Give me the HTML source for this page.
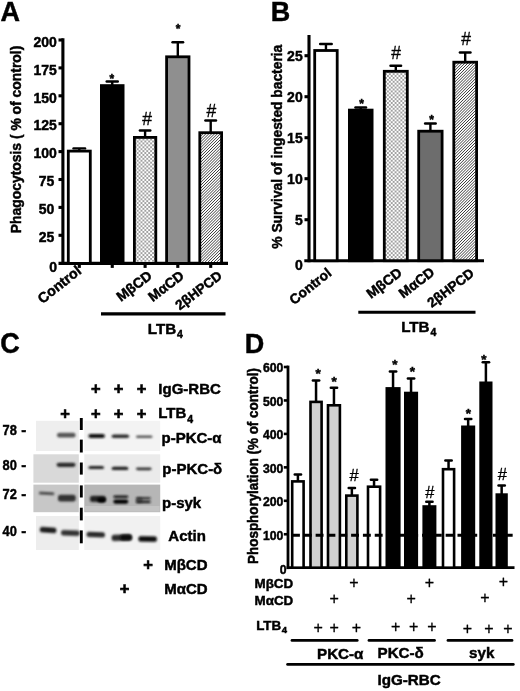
<!DOCTYPE html>
<html><head><meta charset="utf-8"><title>Figure</title>
<style>html,body{margin:0;padding:0;background:#fff;}svg{display:block;}text{font-family:"Liberation Sans",Arial,Helvetica,sans-serif;fill:#000;}text.b{stroke:#000;stroke-width:.45px;}text.h{stroke:#000;stroke-width:.3px;}</style>
</head><body>
<svg width="520" height="691" viewBox="0 0 520 691">
<rect width="520" height="691" fill="#fff"/>
<defs>
<pattern id="dots" width="3.85" height="3.85" patternUnits="userSpaceOnUse"><rect width="3.85" height="3.85" fill="#fff"/><circle cx="0.96" cy="0.96" r="0.8" fill="#2a2a2a"/><circle cx="2.885" cy="2.885" r="0.8" fill="#2a2a2a"/></pattern>
<pattern id="hatch" width="2.05" height="2.05" patternUnits="userSpaceOnUse" patternTransform="rotate(-45)"><rect width="2.05" height="2.05" fill="#fff"/><rect width="2.05" height="0.68" fill="#333"/></pattern>
<filter id="b1" x="-5%" y="-5%" width="110%" height="110%"><feGaussianBlur stdDeviation="0.5"/></filter>
<filter id="b2" x="-30%" y="-100%" width="160%" height="300%"><feGaussianBlur stdDeviation="1.15"/></filter>
</defs>
<text x="0.50" y="21.20" font-size="27" font-weight="bold" text-anchor="start" class="b" >A</text>
<line x1="62.90" y1="38.25" x2="62.90" y2="264.95" stroke="#000" stroke-width="3.1" />
<line x1="58.50" y1="263.40" x2="228.00" y2="263.40" stroke="#000" stroke-width="3.1" />
<line x1="58.50" y1="40.00" x2="62.90" y2="40.00" stroke="#000" stroke-width="3.1" />
<text x="56.90" y="46.70" font-size="14" font-weight="bold" text-anchor="end" class="b" >200</text>
<line x1="58.50" y1="67.90" x2="62.90" y2="67.90" stroke="#000" stroke-width="3.1" />
<text x="56.90" y="74.60" font-size="14" font-weight="bold" text-anchor="end" class="b" >175</text>
<line x1="58.50" y1="95.80" x2="62.90" y2="95.80" stroke="#000" stroke-width="3.1" />
<text x="56.90" y="102.50" font-size="14" font-weight="bold" text-anchor="end" class="b" >150</text>
<line x1="58.50" y1="123.70" x2="62.90" y2="123.70" stroke="#000" stroke-width="3.1" />
<text x="56.90" y="130.40" font-size="14" font-weight="bold" text-anchor="end" class="b" >125</text>
<line x1="58.50" y1="151.60" x2="62.90" y2="151.60" stroke="#000" stroke-width="3.1" />
<text x="56.90" y="158.30" font-size="14" font-weight="bold" text-anchor="end" class="b" >100</text>
<line x1="58.50" y1="179.50" x2="62.90" y2="179.50" stroke="#000" stroke-width="3.1" />
<text x="54.40" y="186.20" font-size="14" font-weight="bold" text-anchor="end" class="b" >75</text>
<line x1="58.50" y1="207.40" x2="62.90" y2="207.40" stroke="#000" stroke-width="3.1" />
<text x="54.40" y="214.10" font-size="14" font-weight="bold" text-anchor="end" class="b" >50</text>
<line x1="58.50" y1="235.30" x2="62.90" y2="235.30" stroke="#000" stroke-width="3.1" />
<text x="54.40" y="242.00" font-size="14" font-weight="bold" text-anchor="end" class="b" >25</text>
<text x="57.00" y="272.00" font-size="14" font-weight="bold" text-anchor="end" class="b" >0</text>
<text x="20.80" y="139.50" font-size="13.9" font-weight="bold" text-anchor="middle" transform="rotate(-90 20.80 139.50)" class="b" >Phagocytosis ( % of control)</text>
<line x1="79.30" y1="148.40" x2="79.30" y2="150.70" stroke="#000" stroke-width="2.4" />
<line x1="73.50" y1="148.40" x2="85.10" y2="148.40" stroke="#000" stroke-width="2.4" stroke-linecap="round"/>
<rect x="68.30" y="151.10" width="22.00" height="112.30" fill="#fff" stroke="#000" stroke-width="2.8"/>
<line x1="79.30" y1="263.40" x2="79.30" y2="267.90" stroke="#000" stroke-width="3.1" />
<line x1="112.25" y1="81.50" x2="112.25" y2="85.20" stroke="#000" stroke-width="2.4" />
<line x1="106.70" y1="81.50" x2="117.80" y2="81.50" stroke="#000" stroke-width="2.4" stroke-linecap="round"/>
<rect x="101.40" y="85.60" width="21.70" height="177.80" fill="#000" stroke="#000" stroke-width="2.8"/>
<line x1="112.25" y1="263.40" x2="112.25" y2="267.90" stroke="#000" stroke-width="3.1" />
<line x1="145.10" y1="130.50" x2="145.10" y2="137.00" stroke="#000" stroke-width="2.4" />
<line x1="139.90" y1="130.50" x2="150.30" y2="130.50" stroke="#000" stroke-width="2.4" stroke-linecap="round"/>
<rect x="134.40" y="137.40" width="21.40" height="126.00" fill="url(#dots)" stroke="#000" stroke-width="2.8"/>
<line x1="145.10" y1="263.40" x2="145.10" y2="267.90" stroke="#000" stroke-width="3.1" />
<line x1="177.80" y1="42.30" x2="177.80" y2="56.40" stroke="#000" stroke-width="2.4" />
<line x1="172.50" y1="42.30" x2="183.10" y2="42.30" stroke="#000" stroke-width="2.4" stroke-linecap="round"/>
<rect x="166.60" y="56.80" width="22.40" height="206.60" fill="#8f8f8f" stroke="#000" stroke-width="2.8"/>
<line x1="177.80" y1="263.40" x2="177.80" y2="267.90" stroke="#000" stroke-width="3.1" />
<line x1="210.70" y1="120.50" x2="210.70" y2="132.30" stroke="#000" stroke-width="2.4" />
<line x1="205.40" y1="120.50" x2="216.00" y2="120.50" stroke="#000" stroke-width="2.4" stroke-linecap="round"/>
<rect x="199.80" y="132.70" width="21.80" height="130.70" fill="url(#hatch)" stroke="#000" stroke-width="2.8"/>
<line x1="210.70" y1="263.40" x2="210.70" y2="267.90" stroke="#000" stroke-width="3.1" />
<text x="111.90" y="82.80" font-size="12" font-weight="bold" text-anchor="middle" class="b" >*</text>
<text x="178.00" y="32.70" font-size="12" font-weight="bold" text-anchor="middle" class="b" >*</text>
<text x="147.00" y="124.50" font-size="17.5" font-weight="normal" text-anchor="middle" class="h">#</text>
<text x="211.40" y="116.50" font-size="17.5" font-weight="normal" text-anchor="middle" class="h">#</text>
<text x="82.30" y="272.60" font-size="14.3" font-weight="bold" text-anchor="end" transform="rotate(-38.5 82.30 272.60)" class="b" >Control</text>
<text x="153.00" y="277.50" font-size="14" font-weight="bold" text-anchor="end" transform="rotate(-37.5 153.00 277.50)" class="b" >MβCD</text>
<text x="185.00" y="277.50" font-size="14" font-weight="bold" text-anchor="end" transform="rotate(-37.5 185.00 277.50)" class="b" >MαCD</text>
<text x="223.00" y="277.50" font-size="13.6" font-weight="bold" text-anchor="end" transform="rotate(-37.5 223.00 277.50)" class="b" >2βHPCD</text>
<line x1="101.00" y1="313.90" x2="225.50" y2="313.90" stroke="#000" stroke-width="3.1" />
<text x="147.80" y="333.60" font-size="15.2" font-weight="bold" text-anchor="start" class="b" >LTB<tspan font-size="10.5" dy="4.6" dx="0.8">4</tspan></text>
<text x="270.70" y="20.80" font-size="27" font-weight="bold" text-anchor="start" class="b" >B</text>
<line x1="309.00" y1="35.00" x2="309.00" y2="262.25" stroke="#000" stroke-width="3.1" />
<line x1="304.30" y1="260.70" x2="484.00" y2="260.70" stroke="#000" stroke-width="3.1" />
<line x1="304.50" y1="55.70" x2="309.00" y2="55.70" stroke="#000" stroke-width="3.1" />
<text x="302.70" y="61.40" font-size="14" font-weight="bold" text-anchor="end" class="b" >25</text>
<line x1="304.50" y1="96.70" x2="309.00" y2="96.70" stroke="#000" stroke-width="3.1" />
<text x="302.70" y="102.40" font-size="14" font-weight="bold" text-anchor="end" class="b" >20</text>
<line x1="304.50" y1="137.70" x2="309.00" y2="137.70" stroke="#000" stroke-width="3.1" />
<text x="302.70" y="143.40" font-size="14" font-weight="bold" text-anchor="end" class="b" >15</text>
<line x1="304.50" y1="178.70" x2="309.00" y2="178.70" stroke="#000" stroke-width="3.1" />
<text x="302.70" y="184.40" font-size="14" font-weight="bold" text-anchor="end" class="b" >10</text>
<line x1="304.50" y1="219.70" x2="309.00" y2="219.70" stroke="#000" stroke-width="3.1" />
<text x="302.70" y="225.40" font-size="14" font-weight="bold" text-anchor="end" class="b" >5</text>
<text x="302.80" y="269.90" font-size="14" font-weight="bold" text-anchor="end" class="b" >0</text>
<text x="281.80" y="146.70" font-size="13.8" font-weight="bold" text-anchor="middle" transform="rotate(-90 281.80 146.70)" class="b" >% Survival of ingested bacteria</text>
<line x1="325.95" y1="44.00" x2="325.95" y2="50.10" stroke="#000" stroke-width="2.4" />
<line x1="320.15" y1="44.00" x2="331.75" y2="44.00" stroke="#000" stroke-width="2.4" stroke-linecap="round"/>
<rect x="314.70" y="50.50" width="22.50" height="210.20" fill="#fff" stroke="#000" stroke-width="2.8"/>
<line x1="360.75" y1="107.50" x2="360.75" y2="109.70" stroke="#000" stroke-width="2.4" />
<line x1="355.45" y1="107.50" x2="366.05" y2="107.50" stroke="#000" stroke-width="2.4" stroke-linecap="round"/>
<rect x="349.40" y="110.10" width="22.70" height="150.60" fill="#000" stroke="#000" stroke-width="2.8"/>
<line x1="395.80" y1="65.80" x2="395.80" y2="70.90" stroke="#000" stroke-width="2.4" />
<line x1="390.50" y1="65.80" x2="401.10" y2="65.80" stroke="#000" stroke-width="2.4" stroke-linecap="round"/>
<rect x="384.30" y="71.30" width="23.00" height="189.40" fill="url(#dots)" stroke="#000" stroke-width="2.8"/>
<line x1="430.40" y1="123.50" x2="430.40" y2="130.80" stroke="#000" stroke-width="2.4" />
<line x1="425.10" y1="123.50" x2="435.70" y2="123.50" stroke="#000" stroke-width="2.4" stroke-linecap="round"/>
<rect x="418.70" y="131.20" width="23.40" height="129.50" fill="#6d6d6d" stroke="#000" stroke-width="2.8"/>
<line x1="465.20" y1="52.50" x2="465.20" y2="61.80" stroke="#000" stroke-width="2.4" />
<line x1="459.90" y1="52.50" x2="470.50" y2="52.50" stroke="#000" stroke-width="2.4" stroke-linecap="round"/>
<rect x="453.80" y="62.20" width="22.80" height="198.50" fill="url(#hatch)" stroke="#000" stroke-width="2.8"/>
<text x="361.50" y="107.80" font-size="12" font-weight="bold" text-anchor="middle" class="b" >*</text>
<text x="431.70" y="124.30" font-size="12" font-weight="bold" text-anchor="middle" class="b" >*</text>
<text x="396.00" y="59.30" font-size="17.5" font-weight="normal" text-anchor="middle" class="h">#</text>
<text x="466.00" y="45.30" font-size="17.5" font-weight="normal" text-anchor="middle" class="h">#</text>
<text x="332.40" y="274.70" font-size="13.8" font-weight="bold" text-anchor="end" transform="rotate(-38.5 332.40 274.70)" class="b" >Control</text>
<text x="403.00" y="274.50" font-size="14" font-weight="bold" text-anchor="end" transform="rotate(-37.5 403.00 274.50)" class="b" >MβCD</text>
<text x="435.50" y="274.00" font-size="14" font-weight="bold" text-anchor="end" transform="rotate(-37.5 435.50 274.00)" class="b" >MαCD</text>
<text x="475.00" y="275.00" font-size="13.6" font-weight="bold" text-anchor="end" transform="rotate(-37.5 475.00 275.00)" class="b" >2βHPCD</text>
<line x1="358.30" y1="312.30" x2="475.50" y2="312.30" stroke="#000" stroke-width="3.1" />
<text x="401.20" y="331.80" font-size="15.2" font-weight="bold" text-anchor="start" class="b" >LTB<tspan font-size="10.5" dy="4.6" dx="0.8">4</tspan></text>
<text class="b" transform="translate(0.3 352.6) scale(1 1.07)" font-size="27" font-weight="bold">C</text>
<g filter="url(#b1)">
<rect x="36" y="420.8" width="42.8" height="30.2" fill="#eeeeee"/>
<rect x="84.3" y="420.8" width="75.9" height="30.2" fill="#f3f3f3"/>
<rect x="33.4" y="454.3" width="45.4" height="28.4" fill="#d9d9d9"/>
<rect x="84.3" y="454.3" width="75.9" height="28.4" fill="#ebebeb"/>
<rect x="33.4" y="484.6" width="45.4" height="27.6" fill="#c7c7c7"/>
<rect x="84.3" y="484.6" width="75.9" height="27.6" fill="#b6b6b6"/>
<rect x="36" y="516" width="42.8" height="34.0" fill="#ededed"/>
<rect x="84.3" y="516" width="75.9" height="34.0" fill="#f1f1f1"/>
<rect x="84.8" y="506" width="74.9" height="5.6" fill="#c4c4c4" filter="url(#b1)"/>
</g>
<rect x="57.0" y="432.8" width="18.6" height="4.7" rx="2.5" fill="#555" opacity="1.0" filter="url(#b2)" transform="rotate(0 66.3 435.1)"/>
<rect x="88.3" y="434.0" width="16.7" height="3.9" rx="2.5" fill="#111" opacity="1.0" filter="url(#b2)" transform="rotate(0 96.7 435.9)"/>
<rect x="111.6" y="434.6" width="17.6" height="3.3" rx="2.4" fill="#2a2a2a" opacity="1.0" filter="url(#b2)" transform="rotate(0 120.4 436.2)"/>
<rect x="135.9" y="435.4" width="16.7" height="2.7" rx="2.1" fill="#555" opacity="1.0" filter="url(#b2)" transform="rotate(0 144.2 436.8)"/>
<rect x="56.5" y="462.8" width="19.1" height="4.1" rx="2.5" fill="#2a2a2a" opacity="1.0" filter="url(#b2)" transform="rotate(0 66.1 464.9)"/>
<rect x="88.3" y="466.0" width="15.9" height="3.1" rx="2.3" fill="#222" opacity="1.0" filter="url(#b2)" transform="rotate(0 96.2 467.5)"/>
<rect x="111.6" y="466.8" width="16.8" height="3.2" rx="2.4" fill="#1a1a1a" opacity="1.0" filter="url(#b2)" transform="rotate(0 120.0 468.4)"/>
<rect x="135.9" y="467.4" width="15.8" height="2.8" rx="2.2" fill="#333" opacity="1.0" filter="url(#b2)" transform="rotate(0 143.8 468.8)"/>
<rect x="38.8" y="492.0" width="15.6" height="2.8" rx="2.2" fill="#444" opacity="1.0" filter="url(#b2)" transform="rotate(3 46.6 493.4)"/>
<rect x="58.0" y="494.8" width="17.7" height="6.6" rx="2.5" fill="#333" opacity="1.0" filter="url(#b2)" transform="rotate(0 66.8 498.1)"/>
<rect x="90.0" y="495.7" width="15.8" height="6.4" rx="2.5" fill="#222" opacity="1.0" filter="url(#b2)" transform="rotate(0 97.9 498.9)"/>
<rect x="97.3" y="497.8" width="8.5" height="4.6" rx="2.5" fill="#000" opacity="1.0" filter="url(#b2)" transform="rotate(0 101.5 500.1)"/>
<rect x="113.3" y="495.6" width="15.0" height="2.4" rx="2.0" fill="#111" opacity="1.0" filter="url(#b2)" transform="rotate(0 120.8 496.8)"/>
<rect x="113.3" y="499.4" width="15.0" height="4.4" rx="2.5" fill="#000" opacity="1.0" filter="url(#b2)" transform="rotate(0 120.8 501.6)"/>
<rect x="135.9" y="497.2" width="14.9" height="2.0" rx="1.8" fill="#222" opacity="1.0" filter="url(#b2)" transform="rotate(0 143.3 498.2)"/>
<rect x="135.9" y="500.8" width="14.9" height="2.2" rx="1.9" fill="#111" opacity="1.0" filter="url(#b2)" transform="rotate(0 143.3 501.9)"/>
<rect x="135.9" y="497.4" width="6.8" height="5.4" rx="2.5" fill="#222" opacity="0.6" filter="url(#b2)" transform="rotate(0 139.3 500.1)"/>
<rect x="39.8" y="527.2" width="16.6" height="5.5" rx="2.5" fill="#1a1a1a" opacity="1.0" filter="url(#b2)" transform="rotate(4 48.1 530.0)"/>
<rect x="61.0" y="530.2" width="18.7" height="5.5" rx="2.5" fill="#333" opacity="1.0" filter="url(#b2)" transform="rotate(2 70.3 533.0)"/>
<rect x="86.5" y="532.0" width="18.5" height="5.3" rx="2.5" fill="#2a2a2a" opacity="1.0" filter="url(#b2)" transform="rotate(2 95.8 534.7)"/>
<rect x="111.6" y="534.6" width="20.2" height="6.2" rx="2.5" fill="#2a2a2a" opacity="1.0" filter="url(#b2)" transform="rotate(-2 121.7 537.7)"/>
<rect x="120.3" y="534.8" width="11.5" height="5.4" rx="2.5" fill="#111" opacity="1.0" filter="url(#b2)" transform="rotate(0 126.0 537.5)"/>
<rect x="138.4" y="536.3" width="18.5" height="5.4" rx="2.5" fill="#0a0a0a" opacity="1.0" filter="url(#b2)" transform="rotate(1 147.6 539.0)"/>
<line x1="81.30" y1="418.00" x2="81.30" y2="430.00" stroke="#000" stroke-width="2.9" />
<line x1="81.30" y1="439.60" x2="81.30" y2="452.50" stroke="#000" stroke-width="2.9" />
<line x1="81.30" y1="462.50" x2="81.30" y2="474.60" stroke="#000" stroke-width="2.9" />
<line x1="81.30" y1="485.40" x2="81.30" y2="497.50" stroke="#000" stroke-width="2.9" />
<line x1="81.30" y1="507.70" x2="81.30" y2="520.40" stroke="#000" stroke-width="2.9" />
<line x1="81.30" y1="530.40" x2="81.30" y2="543.30" stroke="#000" stroke-width="2.9" />
<text class="b" transform="translate(2.60 435.30) scale(0.88 1)" font-size="14.6" font-weight="bold" text-anchor="start">78</text>
<text class="b" transform="translate(21.20 435.30) scale(1.0 1)" font-size="15" font-weight="bold" text-anchor="start">-</text>
<text class="b" transform="translate(2.60 470.10) scale(0.88 1)" font-size="14.6" font-weight="bold" text-anchor="start">80</text>
<text class="b" transform="translate(21.20 470.10) scale(1.0 1)" font-size="15" font-weight="bold" text-anchor="start">-</text>
<text class="b" transform="translate(2.60 499.40) scale(0.88 1)" font-size="14.6" font-weight="bold" text-anchor="start">72</text>
<text class="b" transform="translate(21.20 499.40) scale(1.0 1)" font-size="15" font-weight="bold" text-anchor="start">-</text>
<text class="b" transform="translate(2.60 535.60) scale(0.88 1)" font-size="14.6" font-weight="bold" text-anchor="start">40</text>
<text class="b" transform="translate(21.20 535.60) scale(1.0 1)" font-size="15" font-weight="bold" text-anchor="start">-</text>
<text x="95.80" y="393.80" font-size="16.5" font-weight="bold" text-anchor="middle" class="b" style="stroke-width:.6px">+</text>
<text x="118.60" y="393.80" font-size="16.5" font-weight="bold" text-anchor="middle" class="b" style="stroke-width:.6px">+</text>
<text x="141.60" y="393.80" font-size="16.5" font-weight="bold" text-anchor="middle" class="b" style="stroke-width:.6px">+</text>
<text x="65.00" y="419.00" font-size="16.5" font-weight="bold" text-anchor="middle" class="b" style="stroke-width:.6px">+</text>
<text x="95.80" y="419.00" font-size="16.5" font-weight="bold" text-anchor="middle" class="b" style="stroke-width:.6px">+</text>
<text x="118.60" y="419.00" font-size="16.5" font-weight="bold" text-anchor="middle" class="b" style="stroke-width:.6px">+</text>
<text x="141.60" y="419.00" font-size="16.5" font-weight="bold" text-anchor="middle" class="b" style="stroke-width:.6px">+</text>
<text class="b" transform="translate(158.30 393.70) scale(1.0 1)" font-size="15" font-weight="bold" text-anchor="start">IgG-RBC</text>
<text class="b" transform="translate(158.30 418.20) scale(1.0 1)" font-size="15" font-weight="bold" text-anchor="start">LTB<tspan font-size="10.5" dy="4.6" dx="0.8">4</tspan></text>
<text class="b" transform="translate(161.50 443.00) scale(1.0 1)" font-size="15" font-weight="bold" text-anchor="start">p-PKC-α</text>
<text class="b" transform="translate(162.30 473.70) scale(1.0 1)" font-size="15" font-weight="bold" text-anchor="start">p-PKC-δ</text>
<text class="b" transform="translate(162.00 508.20) scale(1.0 1)" font-size="15" font-weight="bold" text-anchor="start">p-syk</text>
<text class="b" transform="translate(168.30 541.40) scale(1.0 1)" font-size="15" font-weight="bold" text-anchor="start">Actin</text>
<text class="b" transform="translate(164.20 570.40) scale(1.0 1)" font-size="15" font-weight="bold" text-anchor="start">MβCD</text>
<text class="b" transform="translate(164.20 594.20) scale(1.0 1)" font-size="15" font-weight="bold" text-anchor="start">MαCD</text>
<text x="148.00" y="570.20" font-size="16.5" font-weight="bold" text-anchor="middle" class="b" style="stroke-width:.6px">+</text>
<text x="124.50" y="593.70" font-size="16.5" font-weight="bold" text-anchor="middle" class="b" style="stroke-width:.6px">+</text>
<text x="244.70" y="352.80" font-size="27" font-weight="bold" text-anchor="start" class="b" >D</text>
<line x1="288.00" y1="365.60" x2="288.00" y2="569.10" stroke="#000" stroke-width="2.8" />
<line x1="286.60" y1="567.70" x2="514.50" y2="567.70" stroke="#000" stroke-width="2.8" />
<line x1="283.80" y1="367.00" x2="288.00" y2="367.00" stroke="#000" stroke-width="2.6" />
<text x="283.40" y="372.40" font-size="12.2" font-weight="bold" text-anchor="end" class="b" >600</text>
<line x1="283.80" y1="400.45" x2="288.00" y2="400.45" stroke="#000" stroke-width="2.6" />
<text x="283.40" y="405.85" font-size="12.2" font-weight="bold" text-anchor="end" class="b" >500</text>
<line x1="283.80" y1="433.90" x2="288.00" y2="433.90" stroke="#000" stroke-width="2.6" />
<text x="283.40" y="439.30" font-size="12.2" font-weight="bold" text-anchor="end" class="b" >400</text>
<line x1="283.80" y1="467.35" x2="288.00" y2="467.35" stroke="#000" stroke-width="2.6" />
<text x="283.40" y="472.75" font-size="12.2" font-weight="bold" text-anchor="end" class="b" >300</text>
<line x1="283.80" y1="500.80" x2="288.00" y2="500.80" stroke="#000" stroke-width="2.6" />
<text x="283.40" y="506.20" font-size="12.2" font-weight="bold" text-anchor="end" class="b" >200</text>
<line x1="283.80" y1="534.25" x2="288.00" y2="534.25" stroke="#000" stroke-width="2.6" />
<text x="283.40" y="539.65" font-size="12.2" font-weight="bold" text-anchor="end" class="b" >100</text>
<text x="286.60" y="573.90" font-size="12.2" font-weight="bold" text-anchor="end" class="b" >0</text>
<text class="b" transform="translate(257.7 466.0) rotate(-90) scale(1 1.13)" font-size="13.42" font-weight="bold" text-anchor="middle">Phosphorylation (% of control)</text>
<line x1="297.90" y1="474.50" x2="297.90" y2="481.10" stroke="#000" stroke-width="2.5" />
<line x1="294.75" y1="474.50" x2="301.05" y2="474.50" stroke="#000" stroke-width="2.5" stroke-linecap="round"/>
<rect x="292.20" y="481.40" width="11.40" height="86.30" fill="#fff" stroke="#000" stroke-width="2.6"/>
<line x1="316.05" y1="380.40" x2="316.05" y2="401.60" stroke="#000" stroke-width="2.5" />
<line x1="312.90" y1="380.40" x2="319.20" y2="380.40" stroke="#000" stroke-width="2.5" stroke-linecap="round"/>
<rect x="310.50" y="401.90" width="11.10" height="165.80" fill="#d0d0d0" stroke="#000" stroke-width="2.6"/>
<line x1="333.95" y1="387.70" x2="333.95" y2="405.00" stroke="#000" stroke-width="2.5" />
<line x1="330.80" y1="387.70" x2="337.10" y2="387.70" stroke="#000" stroke-width="2.5" stroke-linecap="round"/>
<rect x="328.00" y="405.30" width="11.90" height="162.40" fill="#d0d0d0" stroke="#000" stroke-width="2.6"/>
<line x1="351.85" y1="488.00" x2="351.85" y2="495.30" stroke="#000" stroke-width="2.5" />
<line x1="348.70" y1="488.00" x2="355.00" y2="488.00" stroke="#000" stroke-width="2.5" stroke-linecap="round"/>
<rect x="346.30" y="495.60" width="11.10" height="72.10" fill="#d0d0d0" stroke="#000" stroke-width="2.6"/>
<line x1="374.05" y1="479.80" x2="374.05" y2="486.40" stroke="#000" stroke-width="2.5" />
<line x1="370.90" y1="479.80" x2="377.20" y2="479.80" stroke="#000" stroke-width="2.5" stroke-linecap="round"/>
<rect x="368.00" y="486.70" width="12.10" height="81.00" fill="#fff" stroke="#000" stroke-width="2.6"/>
<line x1="393.05" y1="371.40" x2="393.05" y2="388.10" stroke="#000" stroke-width="2.5" />
<line x1="389.90" y1="371.40" x2="396.20" y2="371.40" stroke="#000" stroke-width="2.5" stroke-linecap="round"/>
<rect x="386.80" y="388.40" width="12.50" height="179.30" fill="#000" stroke="#000" stroke-width="2.6"/>
<line x1="411.05" y1="378.50" x2="411.05" y2="392.70" stroke="#000" stroke-width="2.5" />
<line x1="407.90" y1="378.50" x2="414.20" y2="378.50" stroke="#000" stroke-width="2.5" stroke-linecap="round"/>
<rect x="405.30" y="393.00" width="11.50" height="174.70" fill="#000" stroke="#000" stroke-width="2.6"/>
<line x1="429.40" y1="501.80" x2="429.40" y2="506.20" stroke="#000" stroke-width="2.5" />
<line x1="426.25" y1="501.80" x2="432.55" y2="501.80" stroke="#000" stroke-width="2.5" stroke-linecap="round"/>
<rect x="423.70" y="506.50" width="11.40" height="61.20" fill="#000" stroke="#000" stroke-width="2.6"/>
<line x1="448.55" y1="460.50" x2="448.55" y2="468.90" stroke="#000" stroke-width="2.5" />
<line x1="445.40" y1="460.50" x2="451.70" y2="460.50" stroke="#000" stroke-width="2.5" stroke-linecap="round"/>
<rect x="443.00" y="469.20" width="11.10" height="98.50" fill="#fff" stroke="#000" stroke-width="2.6"/>
<line x1="468.15" y1="419.00" x2="468.15" y2="426.50" stroke="#000" stroke-width="2.5" />
<line x1="465.00" y1="419.00" x2="471.30" y2="419.00" stroke="#000" stroke-width="2.5" stroke-linecap="round"/>
<rect x="462.40" y="426.80" width="11.50" height="140.90" fill="#000" stroke="#000" stroke-width="2.6"/>
<line x1="485.90" y1="362.20" x2="485.90" y2="382.50" stroke="#000" stroke-width="2.5" />
<line x1="482.75" y1="362.20" x2="489.05" y2="362.20" stroke="#000" stroke-width="2.5" stroke-linecap="round"/>
<rect x="480.60" y="382.80" width="10.60" height="184.90" fill="#000" stroke="#000" stroke-width="2.6"/>
<line x1="501.65" y1="485.40" x2="501.65" y2="494.30" stroke="#000" stroke-width="2.5" />
<line x1="498.50" y1="485.40" x2="504.80" y2="485.40" stroke="#000" stroke-width="2.5" stroke-linecap="round"/>
<rect x="496.80" y="494.60" width="9.70" height="73.10" fill="#000" stroke="#000" stroke-width="2.6"/>
<line x1="292.00" y1="535.20" x2="514.00" y2="535.20" stroke="#000" stroke-width="3.0" stroke-dasharray="7.9 3.92"/>
<text x="254.50" y="587.90" font-size="13.4" font-weight="bold" text-anchor="start" class="b" >MβCD</text>
<text x="254.50" y="604.80" font-size="13.4" font-weight="bold" text-anchor="start" class="b" >MαCD</text>
<text x="256.20" y="629.60" font-size="13.4" font-weight="bold" text-anchor="start" class="b" >LTB<tspan font-size="9.5" dy="3.8" dx="0.5">4</tspan></text>
<text x="353.90" y="588.20" font-size="16" font-weight="normal" text-anchor="middle" class="h">+</text>
<text x="429.30" y="588.20" font-size="16" font-weight="normal" text-anchor="middle" class="h">+</text>
<text x="503.30" y="587.40" font-size="16" font-weight="normal" text-anchor="middle" class="h">+</text>
<text x="334.20" y="603.60" font-size="16" font-weight="normal" text-anchor="middle" class="h">+</text>
<text x="411.20" y="603.60" font-size="16" font-weight="normal" text-anchor="middle" class="h">+</text>
<text x="485.00" y="603.00" font-size="16" font-weight="normal" text-anchor="middle" class="h">+</text>
<text x="318.10" y="633.20" font-size="16" font-weight="normal" text-anchor="middle" class="h">+</text>
<text x="334.20" y="633.20" font-size="16" font-weight="normal" text-anchor="middle" class="h">+</text>
<text x="356.30" y="633.20" font-size="16" font-weight="normal" text-anchor="middle" class="h">+</text>
<text x="395.60" y="632.40" font-size="16" font-weight="normal" text-anchor="middle" class="h">+</text>
<text x="413.70" y="632.40" font-size="16" font-weight="normal" text-anchor="middle" class="h">+</text>
<text x="432.00" y="632.40" font-size="16" font-weight="normal" text-anchor="middle" class="h">+</text>
<text x="467.50" y="633.70" font-size="16" font-weight="normal" text-anchor="middle" class="h">+</text>
<text x="489.00" y="633.70" font-size="16" font-weight="normal" text-anchor="middle" class="h">+</text>
<text x="507.90" y="633.70" font-size="16" font-weight="normal" text-anchor="middle" class="h">+</text>
<line x1="292.00" y1="640.40" x2="357.20" y2="640.40" stroke="#000" stroke-width="2.8" stroke-linecap="round"/>
<line x1="369.00" y1="640.40" x2="434.50" y2="640.40" stroke="#000" stroke-width="2.8" stroke-linecap="round"/>
<line x1="448.00" y1="640.40" x2="512.00" y2="640.40" stroke="#000" stroke-width="2.8" stroke-linecap="round"/>
<text x="317.00" y="659.20" font-size="15.2" font-weight="bold" text-anchor="start" class="b" >PKC-α</text>
<text x="377.50" y="658.40" font-size="15.2" font-weight="bold" text-anchor="start" class="b" >PKC-δ</text>
<text x="469.00" y="658.20" font-size="15.2" font-weight="bold" text-anchor="start" class="b" >syk</text>
<line x1="287.60" y1="664.40" x2="513.30" y2="664.40" stroke="#000" stroke-width="2.8" stroke-linecap="round"/>
<text x="377.50" y="685.00" font-size="15.2" font-weight="bold" text-anchor="start" class="b" >IgG-RBC</text>
<text x="318.10" y="377.60" font-size="13.5" font-weight="bold" text-anchor="middle" class="b" >*</text>
<text x="334.20" y="385.60" font-size="13.5" font-weight="bold" text-anchor="middle" class="b" >*</text>
<text x="394.80" y="368.80" font-size="13.5" font-weight="bold" text-anchor="middle" class="b" >*</text>
<text x="412.30" y="376.40" font-size="13.5" font-weight="bold" text-anchor="middle" class="b" >*</text>
<text x="468.30" y="418.00" font-size="13.5" font-weight="bold" text-anchor="middle" class="b" >*</text>
<text x="484.00" y="363.60" font-size="13.5" font-weight="bold" text-anchor="middle" class="b" >*</text>
<text x="354.20" y="481.10" font-size="16.5" font-weight="normal" text-anchor="middle" class="h">#</text>
<text x="429.80" y="497.70" font-size="16.5" font-weight="normal" text-anchor="middle" class="h">#</text>
<text x="502.30" y="479.80" font-size="16.5" font-weight="normal" text-anchor="middle" class="h">#</text>
</svg>
</body></html>
